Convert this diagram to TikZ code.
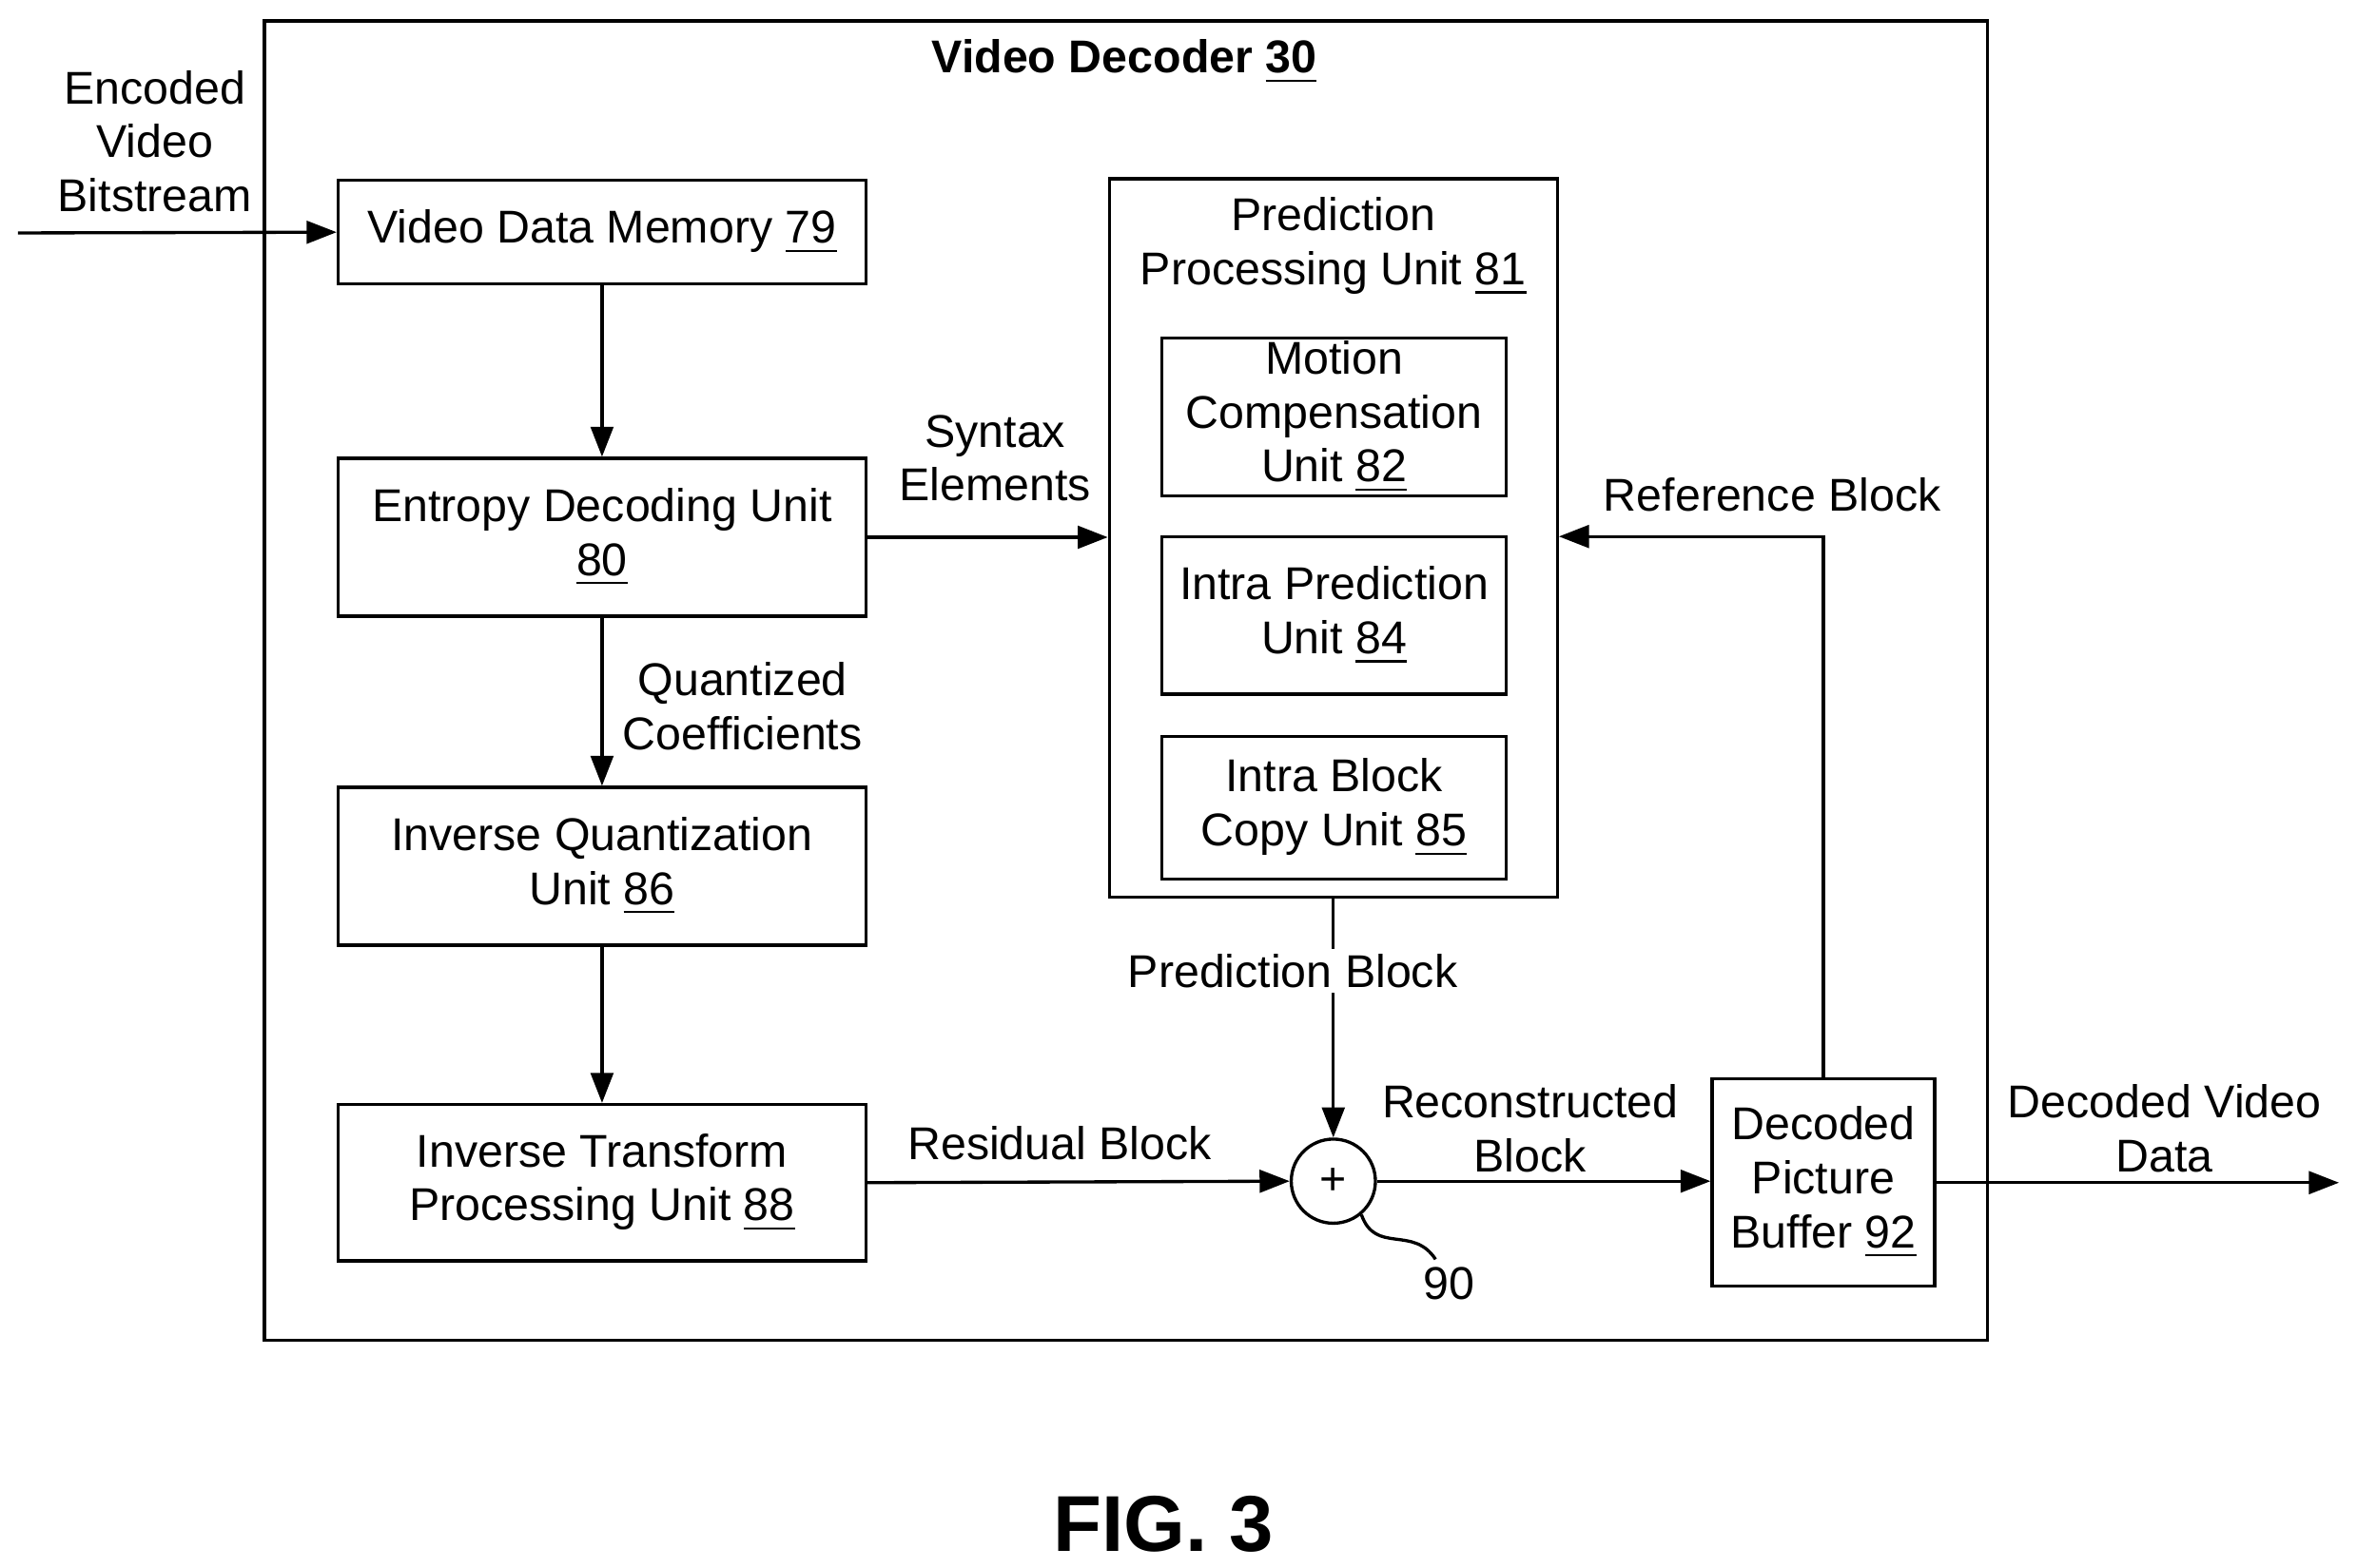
\documentclass[tikz,border=0pt]{standalone}
\usepackage{fontspec}
\setmainfont{Liberation Sans}
\usetikzlibrary{arrows.meta}
\begin{document}
\begin{tikzpicture}[x=0.1mm,y=-0.1mm,
  every node/.style={font=\fontsize{8.7}{10.2}\selectfont, align=center, inner sep=0pt},
  box/.style={draw, line width=0.6pt},
  arr/.style={line width=0.6pt, -{Triangle[length=2mm,width=1.5mm]}},
  ln/.style={line width=0.6pt}]
\useasboundingbox (0,0) rectangle (1568,1043);
\draw[ln] (176,14) rectangle (1322,892);
\node[font=\fontsize{8.7}{10.2}\selectfont\bfseries] (title) at (748,41) {Video Decoder \underline{30}};
\node[box, minimum width=351*0.1mm, minimum height=69*0.1mm] (vdm) at (400.5,154.5) {Video Data Memory \underline{79}};
\node[box, minimum width=351*0.1mm, minimum height=105*0.1mm] (ed) at (400.5,357.5) {Entropy Decoding Unit\\\underline{80}};
\node[box, minimum width=351*0.1mm, minimum height=105*0.1mm] (iq) at (400.5,576.5) {Inverse Quantization\\Unit \underline{86}};
\node[box, minimum width=351*0.1mm, minimum height=104*0.1mm] (it) at (400.5,787) {Inverse Transform\\Processing Unit \underline{88}};
\node[box, minimum width=298*0.1mm, minimum height=478*0.1mm] (pp) at (887,358) {};
\node (pptext) at (887,164) {Prediction\\Processing Unit \underline{81}};
\node[box, minimum width=229*0.1mm, minimum height=105*0.1mm] (mc) at (887.5,277.5) {Motion\\Compensation\\Unit \underline{82}};
\node[box, minimum width=229*0.1mm, minimum height=105*0.1mm] (ip) at (887.5,409.5) {Intra Prediction\\Unit \underline{84}};
\node[box, minimum width=229*0.1mm, minimum height=95*0.1mm] (ib) at (887.5,537.5) {Intra Block\\Copy Unit \underline{85}};
\node[draw, circle, line width=0.6pt, minimum size=56*0.1mm] (sum) at (887,786) {+};
\node[box, minimum width=148*0.1mm, minimum height=138*0.1mm] (dpb) at (1213,787) {Decoded\\Picture\\Buffer \underline{92}};
\coordinate (in) at (12,155);
\coordinate (out) at (1556,787);
\node (enc) at (103,94) {Encoded\\Video\\Bitstream};
\draw[arr] (in) -- (vdm.west);
\draw[arr] (vdm) -- (ed);
\draw[arr] (ed) -- (iq);
\draw[arr] (iq) -- (it);
\draw[arr] (ed.east) -- (ed.east -| pp.west);
\draw[arr] (it.east) -- (sum.west);
\draw[arr] (pp.south) -- (sum.north);
\draw[arr] (sum.east) -- (sum.east -| dpb.west);
\draw[arr] (dpb.east) -- (out);
\draw[arr] (dpb.north) -- (1213,357) -- (1213,357 -| pp.east);
\node at (662,305) {Syntax\\Elements};
\node at (494,470) {Quantized\\Coefficients};
\node[fill=white, inner sep=1pt] at (860,646) {Prediction Block};
\node at (705,761) {Residual Block};
\node at (1018,751) {Reconstructed\\Block};
\node at (1179,329) {Reference Block};
\node at (1440,751) {Decoded Video\\Data};
\node (n90) at (964,854) {90};
\draw[ln] (sum.-50) .. controls (915,835) and (940,815) .. (955,838);
\node[font=\fontsize{15}{18}\selectfont\bfseries] (fig) at (774,1014) {FIG. 3};
\end{tikzpicture}
\end{document}
